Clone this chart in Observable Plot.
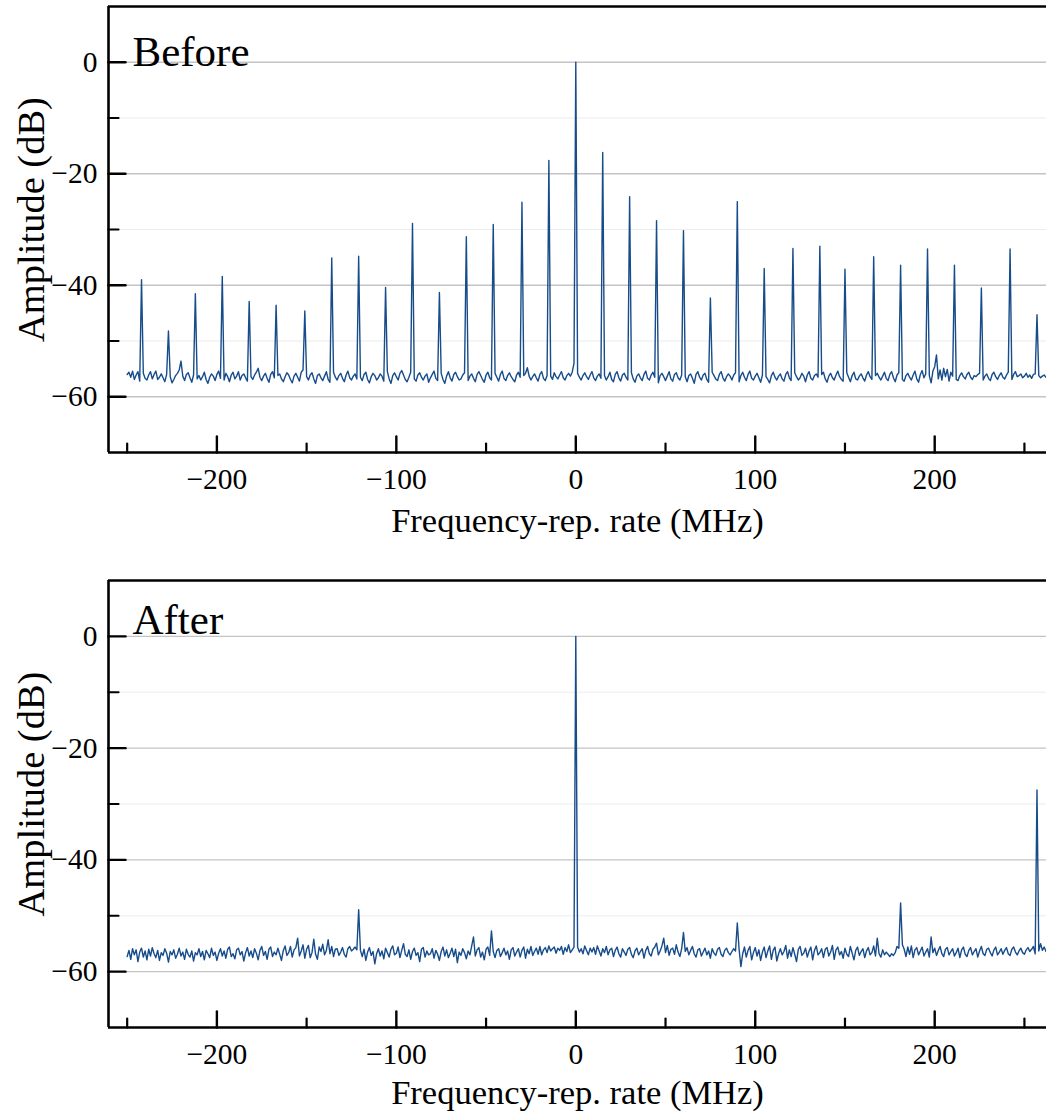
<!DOCTYPE html>
<html>
<head>
<meta charset="utf-8">
<script src="https://cdn.jsdelivr.net/npm/d3@7"></script>
<script src="https://cdn.jsdelivr.net/npm/@observablehq/plot@0.6"></script>
<style>
  html, body { margin: 0; padding: 0; background: white; overflow: hidden; }
  #chart svg { display: block; }
</style>
</head>
<body>
<div id="chart"></div>
<script>
// ---------- data ----------
// frequency grid of the analyser trace: -250 MHz ... +262 MHz, 1 MHz per sample
const freqStart = -250;
const freqStep = 1;

// "Before": noise floor samples (dB), one per MHz
const beforeFloor = [
  -56.0,-55.6,-56.5,-55.4,-56.9,-56.1,-55.5,-57.2,-56.3,-55.8,
  -56.7,-57.0,-56.1,-55.5,-56.8,-56.0,-55.4,-56.9,-56.5,-55.9,
  -56.6,-57.3,-56.0,-55.6,-56.4,-57.5,-56.9,-56.2,-55.8,-55.2,
  -53.6,-56.3,-57.1,-56.0,-55.7,-56.6,-57.4,-56.1,-55.5,-56.8,
  -56.2,-57.0,-56.4,-55.6,-56.9,-57.6,-56.5,-55.9,-56.3,-57.1,
  -56.0,-55.4,-56.7,-56.2,-57.0,-55.8,-56.4,-57.3,-56.1,-55.6,
  -56.8,-56.3,-55.5,-57.0,-56.2,-55.9,-56.6,-57.2,-55.7,-56.4,
  -56.9,-56.1,-55.6,-54.9,-56.5,-57.1,-56.3,-55.8,-56.7,-57.4,
  -56.0,-55.5,-56.6,-57.0,-56.2,-55.9,-56.8,-57.3,-56.4,-55.7,
  -56.1,-56.9,-57.5,-56.3,-55.8,-56.5,-57.2,-55.6,-55.2,-56.7,
  -56.4,-57.0,-56.1,-55.7,-56.8,-57.6,-56.2,-55.9,-56.6,-57.1,
  -56.3,-55.5,-56.9,-57.4,-56.0,-55.6,-56.5,-57.0,-56.2,-55.8,
  -56.7,-57.3,-56.1,-55.4,-56.6,-57.0,-56.3,-55.9,-56.8,-55.2,
  -56.5,-57.1,-56.0,-55.6,-56.9,-57.5,-56.4,-55.8,-56.2,-57.0,
  -56.6,-55.9,-56.3,-57.2,-56.0,-55.5,-56.8,-57.6,-56.2,-55.7,
  -56.4,-57.0,-55.8,-55.3,-56.1,-56.9,-57.3,-56.5,-55.6,-56.2,
  -56.8,-57.2,-56.1,-55.7,-56.5,-57.0,-56.3,-55.9,-57.4,-56.6,
  -56.0,-55.4,-56.7,-57.1,-56.2,-55.8,-56.9,-57.6,-56.3,-55.5,
  -56.6,-57.2,-56.0,-55.6,-56.4,-57.0,-56.8,-56.1,-55.7,-56.5,
  -57.1,-56.3,-55.9,-56.7,-57.3,-56.0,-55.5,-56.2,-56.9,-57.4,
  -56.1,-55.6,-56.6,-57.0,-56.3,-55.8,-56.5,-57.2,-56.0,-55.4,
  -56.7,-57.1,-56.2,-55.7,-56.4,-56.9,-57.3,-56.1,-55.6,-56.5,
  -56.8,-56.2,-55.8,-54.8,-56.3,-57.0,-56.4,-55.9,-56.6,-57.2,
  -56.0,-55.5,-56.7,-57.1,-56.2,-55.6,-56.3,-56.9,-55.7,-56.4,
  -56.8,-56.1,-55.5,-56.6,-57.0,-56.2,-55.8,-56.3,-55.6,-54.0,
  -55.0,-55.8,-56.5,-57.0,-56.2,-55.7,-56.4,-56.9,-56.1,-55.5,
  -56.6,-57.1,-56.3,-55.9,-56.7,-55.8,-56.2,-57.0,-56.4,-55.6,
  -56.9,-57.3,-56.0,-55.5,-56.6,-57.2,-56.1,-55.8,-56.5,-57.0,
  -56.2,-55.7,-56.8,-57.4,-56.3,-55.9,-56.6,-57.1,-56.0,-55.4,
  -56.7,-57.0,-56.1,-55.6,-56.5,-56.9,-57.5,-56.2,-55.8,-56.4,
  -57.1,-56.3,-55.5,-56.8,-57.2,-56.0,-55.7,-56.6,-57.0,-56.1,
  -55.6,-56.4,-57.3,-56.2,-55.9,-56.7,-57.6,-56.0,-55.5,-56.5,
  -57.0,-56.1,-55.8,-56.9,-57.4,-56.3,-55.6,-56.2,-56.8,-57.1,
  -56.0,-55.5,-56.6,-57.2,-56.4,-55.9,-56.3,-57.0,-56.1,-55.7,
  -56.8,-57.3,-56.2,-55.6,-56.5,-57.1,-56.0,-55.4,-56.7,-57.0,
  -56.3,-55.8,-56.6,-57.4,-56.1,-55.7,-56.4,-56.9,-57.5,-56.2,
  -55.6,-56.5,-57.0,-56.3,-55.9,-56.8,-57.2,-56.0,-55.5,-56.6,
  -57.1,-56.2,-55.7,-56.4,-57.0,-56.6,-55.8,-56.3,-57.3,-56.1,
  -55.5,-56.7,-57.0,-56.2,-55.9,-56.5,-57.1,-56.0,-55.6,-56.8,
  -57.4,-56.3,-55.8,-56.6,-57.0,-56.1,-55.4,-56.4,-56.9,-57.2,
  -56.0,-55.7,-56.5,-57.3,-56.2,-55.6,-56.8,-57.0,-56.3,-55.9,
  -56.6,-57.2,-56.1,-55.5,-56.4,-56.9,-57.5,-56.2,-55.8,-56.5,
  -57.0,-56.3,-55.6,-56.7,-57.1,-56.0,-55.5,-56.6,-57.3,-56.1,
  -55.7,-56.4,-56.9,-57.2,-56.2,-55.8,-56.5,-57.0,-56.1,-55.4,
  -56.8,-57.4,-56.0,-55.3,-56.6,-55.9,-55.0,-56.2,-57.5,-55.4,
  -54.6,-52.5,-56.8,-55.2,-57.0,-54.9,-56.4,-55.1,-57.2,-55.6,
  -56.3,-55.8,-56.9,-57.1,-56.2,-55.7,-56.4,-56.8,-56.0,-55.6,
  -56.5,-56.9,-56.2,-56.4,-56.0,-55.8,-56.6,-57.0,-56.3,-55.9,
  -56.7,-57.1,-56.0,-55.6,-56.4,-56.9,-56.2,-55.7,-56.5,-56.8,
  -56.1,-55.6,-56.3,-56.9,-56.0,-55.5,-56.4,-56.2,-55.9,-56.6,
  -56.3,-55.8,-56.5,-56.1,-56.7,-56.0,-55.9,-56.4,-56.2,-56.6,
  -56.3,-56.1,-56.5
];
// "Before": comb lines (MHz, dB)
const beforePeakFreq = [-242,-227,-212,-197,-182,-167,-151,-136,-121,-106,-91,-76,-61,-46,-30,-15,0,15,30,45,60,75,90,105,121,136,150,166,181,196,211,226,242,257];
const beforePeakDb   = [-39.0,-48.2,-41.5,-38.4,-42.9,-43.6,-44.6,-35.1,-34.8,-40.4,-28.9,-41.3,-31.3,-29.1,-25.1,-17.6,0,-16.2,-24.1,-28.4,-30.2,-42.3,-25.0,-37.0,-33.4,-33.0,-37.1,-34.9,-36.4,-33.5,-36.4,-40.5,-33.5,-45.3];

// "After": noise floor samples (dB), one per MHz
const afterFloor = [
  -57.3,-56.2,-57.8,-55.9,-57.0,-56.1,-58.2,-56.5,-55.8,-57.4,
  -56.3,-57.9,-56.0,-57.2,-55.7,-56.8,-57.5,-56.2,-58.0,-56.6,
  -57.1,-55.9,-56.7,-58.3,-56.4,-57.0,-56.1,-57.6,-56.9,-55.8,
  -57.2,-56.5,-57.8,-56.0,-56.9,-57.4,-56.3,-58.1,-56.6,-57.0,
  -55.9,-57.3,-56.4,-57.9,-56.2,-56.8,-57.5,-55.8,-57.1,-56.5,
  -58.0,-56.7,-55.9,-57.2,-56.3,-57.6,-56.0,-55.6,-57.3,-56.8,
  -57.7,-56.1,-55.8,-57.0,-56.4,-58.1,-56.6,-55.7,-57.2,-56.3,
  -57.5,-55.9,-56.7,-57.9,-56.2,-55.5,-57.1,-56.4,-57.8,-56.0,
  -55.6,-57.3,-56.5,-57.0,-55.8,-56.9,-58.0,-56.2,-55.4,-57.1,
  -56.6,-55.5,-57.4,-56.1,-55.7,-54.0,-57.2,-56.3,-55.2,-57.6,
  -56.0,-55.3,-57.5,-56.6,-54.2,-56.9,-57.8,-55.6,-56.4,-55.1,
  -57.0,-56.2,-54.3,-56.8,-55.5,-57.3,-56.0,-55.9,-57.1,-56.5,
  -55.7,-56.9,-57.4,-55.9,-55.5,-56.3,-56.0,-55.6,-56.1,-55.8,
  -56.2,-57.3,-56.0,-58.0,-56.5,-55.7,-57.1,-56.4,-58.6,-56.8,
  -55.9,-57.2,-56.3,-57.7,-55.8,-56.6,-57.4,-56.0,-55.4,-57.0,
  -56.7,-55.6,-57.5,-56.2,-55.0,-56.9,-57.3,-56.1,-57.8,-56.4,
  -55.8,-57.1,-56.6,-58.2,-56.0,-55.7,-57.4,-56.3,-57.0,-56.8,
  -55.9,-57.6,-56.2,-56.9,-58.0,-56.4,-55.6,-57.2,-56.1,-57.5,
  -56.7,-55.8,-57.3,-56.0,-58.4,-56.5,-57.1,-55.9,-56.6,-57.7,
  -56.3,-57.0,-55.4,-53.8,-57.2,-56.1,-55.7,-57.4,-56.5,-57.9,
  -56.0,-55.6,-57.1,-52.7,-56.4,-57.5,-56.2,-55.9,-57.3,-56.6,
  -55.8,-57.0,-56.3,-57.8,-56.1,-55.7,-57.2,-56.5,-55.9,-57.4,
  -56.2,-55.6,-57.6,-56.0,-56.8,-55.5,-57.1,-56.4,-55.8,-56.9,
  -55.5,-57.0,-56.1,-55.7,-56.6,-55.4,-56.3,-55.9,-55.6,-56.7,
  -55.8,-56.2,-55.5,-56.9,-55.7,-56.4,-55.2,-56.6,-56.1,-55.6,
  -55.3,-55.6,-56.5,-55.9,-56.8,-55.4,-56.2,-57.0,-55.8,-56.5,
  -55.7,-56.9,-55.4,-56.3,-57.2,-55.9,-56.6,-55.5,-57.0,-56.1,
  -55.8,-57.3,-56.2,-55.6,-56.8,-57.4,-55.9,-56.5,-57.1,-56.0,
  -55.7,-56.9,-57.5,-56.3,-55.8,-57.0,-56.4,-55.9,-57.6,-56.2,
  -55.5,-56.8,-57.2,-56.0,-55.6,-54.9,-57.0,-56.3,-55.4,-54.0,
  -56.6,-55.3,-57.1,-56.0,-55.8,-56.9,-55.2,-56.5,-57.3,-55.9,
  -53.0,-56.4,-55.7,-57.0,-56.2,-55.5,-56.8,-57.4,-56.1,-55.9,
  -57.2,-56.5,-55.8,-57.0,-56.3,-57.6,-55.9,-56.7,-57.1,-56.0,
  -55.7,-56.9,-57.3,-56.2,-55.8,-56.6,-57.0,-56.4,-55.9,-56.3,
  -55.8,-56.0,-59.1,-56.8,-55.6,-57.4,-56.2,-55.5,-57.9,-56.6,
  -55.7,-57.2,-56.1,-58.0,-56.5,-55.6,-57.5,-56.3,-55.4,-57.8,
  -56.2,-55.6,-58.1,-56.8,-55.9,-57.0,-56.4,-55.3,-57.6,-56.1,
  -57.3,-55.7,-56.9,-58.2,-56.0,-55.5,-57.1,-56.7,-55.8,-57.4,
  -56.3,-55.6,-57.9,-56.2,-55.4,-57.0,-56.6,-55.9,-57.5,-56.0,
  -55.7,-57.2,-56.5,-55.3,-57.8,-56.1,-55.6,-57.0,-56.4,-57.6,
  -55.8,-56.9,-57.3,-55.5,-56.7,-57.9,-56.2,-55.6,-57.1,-56.4,
  -55.9,-57.5,-56.3,-55.7,-57.0,-56.6,-55.4,-57.2,-54.0,-56.8,
  -57.4,-56.1,-57.0,-56.5,-56.9,-57.3,-56.8,-57.1,-56.6,-55.5,
  -55.8,-55.5,-55.2,-56.0,-57.3,-55.6,-56.9,-55.4,-57.5,-56.1,
  -55.7,-57.0,-56.3,-55.6,-57.2,-56.5,-55.9,-57.4,-53.8,-56.6,
  -55.8,-57.1,-56.2,-55.5,-56.8,-57.3,-56.0,-55.7,-57.0,-56.4,
  -55.9,-57.2,-56.6,-55.8,-57.5,-56.1,-55.6,-56.9,-57.3,-56.2,
  -55.7,-57.0,-56.4,-55.9,-57.4,-56.3,-55.5,-56.8,-57.1,-56.0,
  -55.8,-56.6,-57.2,-56.1,-55.6,-57.0,-56.5,-55.9,-56.9,-56.2,
  -55.7,-56.8,-57.1,-56.0,-55.6,-56.5,-57.0,-56.3,-55.8,-56.6,
  -56.9,-56.1,-55.7,-56.4,-56.0,-55.5,-56.8,-55.9,-56.3,-55.0,
  -56.2,-55.6,-56.4
];
// "After": remaining lines (MHz, dB)
const afterPeakFreq = [-121, 0, 90, 181, 257];
const afterPeakDb   = [-48.9, 0, -51.3, -47.7, -27.5];

// axes
const xDomain = [-260.4, 262.3];
const yDomain = [-70, 10];
const xMajorTicks = [-200, -100, 0, 100, 200];
const xMinorTicks = [-250, -150, -50, 50, 150, 250];
const yMajorTicks = [0, -20, -40, -60];
const yMinorTicks = [-10, -30, -50];
const panelLabels = ["Before", "After"];
const xLabel = "Frequency-rep. rate (MHz)";
const yLabel = "Amplitude (dB)";

// ---------- build ----------
function buildSeries(floor, peakFreq, peakDb) {
  const peaks = new Map(peakFreq.map((f, i) => [f, peakDb[i]]));
  return floor.map((v, i) => {
    const f = freqStart + i * freqStep;
    return {f, db: peaks.has(f) ? peaks.get(f) : v};
  });
}
const beforeData = buildSeries(beforeFloor, beforePeakFreq, beforePeakDb);
const afterData = buildSeries(afterFloor, afterPeakFreq, afterPeakDb);

const fmt = d3.format("d");
const FONT = "'Liberation Serif', 'Times New Roman', Times, serif";
const tickUp = {draw(ctx, l) { ctx.moveTo(0, 0); ctx.lineTo(0, -l); }};
const tickRight = {draw(ctx, l) { ctx.moveTo(0, 0); ctx.lineTo(l, 0); }};
const INK = "#000";

function panel(data, label, opts) {
  return Plot.plot({
    width: 1046,
    height: opts.height,
    marginTop: 6,
    marginLeft: 108,
    marginRight: 0,
    marginBottom: opts.marginBottom,
    style: {fontFamily: FONT, background: "white", overflow: "visible"},
    x: {domain: xDomain, axis: null},
    y: {domain: yDomain, axis: null},
    marks: [
      Plot.ruleY(yMinorTicks, {stroke: "#ececec", strokeWidth: 1.2}),
      Plot.ruleY(yMajorTicks, {stroke: "#c4c4c4", strokeWidth: 1.3}),
      Plot.line(data, {x: "f", y: "db", stroke: "#174c8a", strokeWidth: 1.4}),
      // spines
      Plot.ruleX([xDomain[0]], {stroke: INK, strokeWidth: 2.6}),
      Plot.ruleY(yDomain, {stroke: INK, strokeWidth: 2.6}),
      // inward ticks
      Plot.vector(xMajorTicks, {x: d => d, frameAnchor: "bottom", anchor: "start", length: 16, shape: tickUp, stroke: INK, strokeWidth: 2.4}),
      Plot.vector(xMinorTicks, {x: d => d, frameAnchor: "bottom", anchor: "start", length: 9, shape: tickUp, stroke: INK, strokeWidth: 2.2}),
      Plot.vector(yMajorTicks, {y: d => d, frameAnchor: "left", anchor: "start", length: 17, shape: tickRight, stroke: INK, strokeWidth: 2.4}),
      Plot.vector(yMinorTicks, {y: d => d, frameAnchor: "left", anchor: "start", length: 10, shape: tickRight, stroke: INK, strokeWidth: 2.2}),
      // tick labels
      Plot.text(xMajorTicks, {x: d => d, text: d => fmt(d), frameAnchor: "bottom", dy: 16, lineAnchor: "top", textAnchor: "middle", fontSize: 29.5, fill: INK}),
      Plot.text(yMajorTicks, {y: d => d, text: d => fmt(d), frameAnchor: "left", dx: -11, lineAnchor: "middle", textAnchor: "end", fontSize: 29.5, fill: INK}),
      // axis labels
      Plot.text([xLabel], {text: d => d, frameAnchor: "bottom", dy: opts.xLabelDy, lineAnchor: "bottom", textAnchor: "middle", fontSize: 34.5, fill: INK}),
      Plot.text([yLabel], {text: d => d, frameAnchor: "left", dx: -65, dy: -10, rotate: -90, lineAnchor: "bottom", textAnchor: "middle", fontSize: 38.5, fill: INK}),
      // panel label
      Plot.text([label], {text: d => d, frameAnchor: "top-left", dx: 24, dy: opts.labelDy, lineAnchor: "bottom", textAnchor: "start", fontSize: 43, fill: INK})
    ]
  });
}

const chart = document.getElementById("chart");
chart.append(panel(beforeData, panelLabels[0], {height: 574, marginBottom: 122, labelDy: 59, xLabelDy: 79}));
chart.append(panel(afterData, panelLabels[1], {height: 541, marginBottom: 88, labelDy: 53, xLabelDy: 76}));
</script>
</body>
</html>
